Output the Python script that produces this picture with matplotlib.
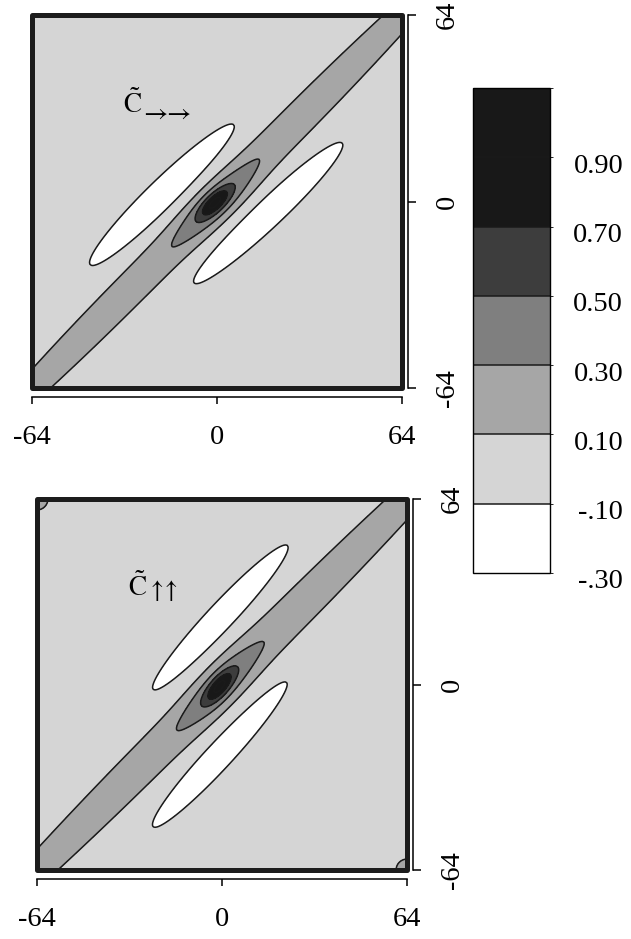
import numpy as np
import matplotlib
matplotlib.use('Agg')
import matplotlib.pyplot as plt
from matplotlib.colors import ListedColormap, BoundaryNorm
from matplotlib.patches import Rectangle
from matplotlib.transforms import ScaledTranslation, blended_transform_factory

plt.rcParams['font.family'] = ['Liberation Serif', 'DejaVu Serif']
plt.rcParams['mathtext.fontset'] = 'stix'
plt.rcParams['axes.unicode_minus'] = False

# contour levels and grey shades of the key
LEVELS = [-0.30, -0.10, 0.10, 0.30, 0.50, 0.70, 0.90, 1.10]
LEVEL_LABELS = ['-.30', '-.10', '0.10', '0.30', '0.50', '0.70', '0.90']
SHADES = ['#ffffff', '#d5d5d5', '#a6a6a6', '#7f7f7f', '#3d3d3d', '#181818', '#181818']
TICKS = [-64, 0, 64]

# each map is a sum of oriented gaussian ridges:
# amplitude, centre x, centre y, angle (deg), sigma along, sigma across
RR_AMP = [0.27, 0.25, 0.46, -0.20, -0.20]
RR_X = [0.0, -0.5, -0.8, -18.9, 17.5]
RR_Y = [0.0, -0.6, -0.4, 2.3, -4.0]
RR_ANGLE = [45, 43, 43, 44, 43]
RR_S_ALONG = [90, 11, 4.5, 29.5, 30.0]
RR_S_ACROSS = [4.4, 3.8, 1.9, 4.4, 4.3]

UU_AMP = [0.27, 0.25, 0.46, -0.20, -0.20, 0.22, 0.22]
UU_X = [0.0, -0.7, -0.9, -0.6, -0.7, -64, 64]
UU_Y = [0.0, -0.45, -0.7, 23.0, -24.0, 64, -64]
UU_ANGLE = [45, 47.5, 50, 47, 47.3, 0, 0]
UU_S_ALONG = [95, 11, 4.5, 29.0, 29.0, 3.0, 3.0]
UU_S_ACROSS = [4.7, 3.8, 1.9, 4.0, 4.0, 3.0, 3.0]

N_GRID = 257


def build_map(amp, xs, ys, angles, s_along, s_across):
    g = np.linspace(-64, 64, N_GRID)
    X, Y = np.meshgrid(g, g)
    Z = np.zeros_like(X)
    for a, x0, y0, t, s1, s2 in zip(amp, xs, ys, angles, s_along, s_across):
        th = np.deg2rad(t)
        dx, dy = X - x0, Y - y0
        u = dx * np.cos(th) + dy * np.sin(th)
        v = -dx * np.sin(th) + dy * np.cos(th)
        Z += a * np.exp(-0.5 * ((u / s1) ** 2 + (v / s2) ** 2))
    return g, Z


cmap = ListedColormap(SHADES)
norm = BoundaryNorm(LEVELS, cmap.N)


def draw_panel(ax, g, Z, sub, sub_offset, sub_size):
    cs = ax.contourf(g, g, Z, levels=LEVELS, cmap=cmap, norm=norm)
    cl = ax.contour(g, g, Z, levels=LEVELS[1:-1], colors='#1a1a1a',
                    linewidths=1.1, linestyles='solid')
    ax.set_xlim(-64, 64)
    ax.set_ylim(-64, 64)
    ax.set_xticks(TICKS)
    ax.set_yticks(TICKS)
    ax.yaxis.tick_right()
    ax.spines['left'].set_visible(False)
    ax.spines['top'].set_visible(False)
    ax.spines['bottom'].set_position(('outward', 6.5))
    ax.spines['right'].set_position(('outward', 4))
    for s in ('bottom', 'right'):
        ax.spines[s].set_linewidth(1.1)
    ax.tick_params(axis='x', direction='out', length=5, width=1.1, pad=15, labelsize=20.5)
    ax.tick_params(axis='y', direction='out', length=5.5, width=1.1, pad=14, labelsize=20.5)
    plt.setp(ax.get_yticklabels(), rotation=90, va='center')
    ax.add_patch(Rectangle((0, 0), 1, 1, transform=ax.transAxes, fill=False,
                           lw=3.6, ec='#1c1c1c', clip_on=False, joinstyle='round', zorder=5))
    # C-tilde with its spin-direction subscript
    ax.text(-32.5, 30.5, r'$\tilde{\mathrm{C}}$', fontsize=19.5)
    ax.annotate(sub, xy=(-32.5, 30.5), xytext=sub_offset, textcoords='offset points',
                fontsize=sub_size, va='baseline')
    return cs, cl


fig = plt.figure(figsize=(6.31, 9.39), dpi=100)
ax_top = fig.add_axes([32 / 631, 1 - 388 / 939, 370 / 631, 373 / 939])
ax_bot = fig.add_axes([37 / 631, 1 - 870 / 939, 370 / 631, 371 / 939])

g, Z_rr = build_map(RR_AMP, RR_X, RR_Y, RR_ANGLE, RR_S_ALONG, RR_S_ACROSS)
cs, cl = draw_panel(ax_top, g, Z_rr, r'$\rightarrow\!\!\!\rightarrow$', (12, -5.5), 19)
g, Z_uu = build_map(UU_AMP, UU_X, UU_Y, UU_ANGLE, UU_S_ALONG, UU_S_ACROSS)
draw_panel(ax_bot, g, Z_uu, r'$\uparrow\!\!\uparrow$', (14, -1), 18)

# grey-scale key
cax = fig.add_axes([473 / 631, 1 - 573 / 939, 77 / 631, 485 / 939])
cbar = fig.colorbar(cs, cax=cax)
cbar.add_lines(cl)
cbar.outline.set_linewidth(1.0)
cbar.set_ticks([])
shift = ScaledTranslation(0, -0.09, fig.dpi_scale_trans)
trans = blended_transform_factory(cax.transAxes, cax.transData) + shift
for lv, txt in zip(LEVELS[:-1], LEVEL_LABELS):
    cax.text(1.95, lv, txt, transform=trans, ha='right', va='center', fontsize=20.5)

fig.savefig('out.png', dpi=100)
